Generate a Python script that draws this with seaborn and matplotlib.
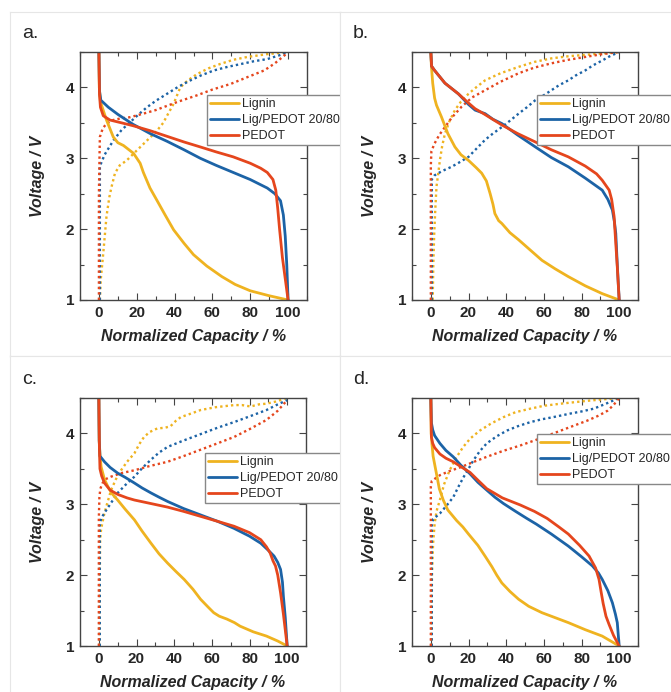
"""
Charge/discharge profiles (normalized capacity) for Lignin, Lig/PEDOT 20/80 and PEDOT,
four panels a-d. Solid = discharge, dotted = charge.
"""

import matplotlib
matplotlib.use('Agg')
import matplotlib.pyplot as plt
from matplotlib.lines import Line2D
from matplotlib.ticker import MultipleLocator
import seaborn as sns

# ---- data: (capacity %, voltage V) ----
samples = ['Lignin', 'Lig/PEDOT 20/80', 'PEDOT']
panel_labels = ['a.', 'b.', 'c.', 'd.']

# panel a
a_lig_dis_cap = [0, 0.2, 0.8, 2, 4, 7.6, 10, 13, 18.3, 21.8, 23.5, 27, 30.6, 35, 39.5, 45, 50, 57, 65, 72, 80, 90, 100]
a_lig_dis_v = [4.5, 4.0, 3.8, 3.7, 3.54, 3.3, 3.22, 3.18, 3.07, 2.93, 2.8, 2.58, 2.41, 2.2, 1.99, 1.8, 1.64, 1.48, 1.33, 1.22, 1.13, 1.06, 1.0]
a_blu_dis_cap = [0, 0.3, 1, 5, 10, 18, 27, 36, 45, 53.6, 62, 71, 80, 89, 93, 96, 97.5, 98.5, 99.3, 100]
a_blu_dis_v = [4.5, 3.95, 3.82, 3.72, 3.62, 3.48, 3.35, 3.24, 3.12, 3.0, 2.9, 2.8, 2.7, 2.58, 2.5, 2.4, 2.2, 1.9, 1.5, 1.0]
a_red_dis_cap = [0, 0.3, 0.8, 2.3, 5.8, 12, 18, 27, 36, 45, 53.6, 62, 71, 80, 85.5, 89, 92, 93.5, 94.5, 95.5, 97, 98.5, 100]
a_red_dis_v = [4.5, 3.9, 3.72, 3.6, 3.54, 3.5, 3.46, 3.39, 3.31, 3.23, 3.16, 3.09, 3.02, 2.93, 2.86, 2.8, 2.7, 2.55, 2.3, 2.0, 1.6, 1.3, 1.0]
a_lig_chg_cap = [0.5, 1, 2.3, 4, 5.5, 6.7, 8.5, 11, 14.7, 20, 25, 30.7, 34, 36, 39.5, 43, 47, 52, 58, 64, 71, 78.5, 89, 100]
a_lig_chg_v = [1.0, 1.3, 1.66, 2.18, 2.45, 2.6, 2.79, 2.9, 2.97, 3.11, 3.24, 3.39, 3.5, 3.6, 3.77, 4.0, 4.1, 4.19, 4.27, 4.33, 4.39, 4.43, 4.47, 4.5]
a_blu_chg_cap = [0.5, 0.5, 1, 3, 7.6, 12, 16.5, 21, 25.4, 30, 36, 42, 48.4, 54, 60.8, 68, 75, 82, 89, 95, 100]
a_blu_chg_v = [1.0, 2.88, 2.92, 3.05, 3.25, 3.4, 3.51, 3.62, 3.72, 3.81, 3.91, 4.01, 4.1, 4.17, 4.24, 4.29, 4.33, 4.37, 4.4, 4.45, 4.5]
a_red_chg_cap = [0, 0, 0.3, 0.5, 2, 4, 7.6, 11, 16.5, 23.5, 30, 34, 42, 52, 60, 69.7, 78, 87.4, 93, 98, 100]
a_red_chg_v = [1.0, 2.5, 3.0, 3.3, 3.42, 3.49, 3.54, 3.56, 3.58, 3.63, 3.68, 3.72, 3.8, 3.89, 3.97, 4.05, 4.14, 4.24, 4.34, 4.45, 4.5]

# panel b
b_lig_dis_cap = [0, 0.3, 1, 2, 3, 5.7, 9, 12.8, 16, 20, 24, 27, 29.5, 31.5, 33, 34, 36, 37.7, 42, 46.6, 53, 59, 66, 73, 82, 91, 100]
b_lig_dis_v = [4.5, 4.3, 4.06, 3.85, 3.75, 3.58, 3.35, 3.16, 3.05, 2.97, 2.87, 2.79, 2.68, 2.5, 2.35, 2.22, 2.12, 2.08, 1.95, 1.85, 1.7, 1.56, 1.44, 1.33, 1.2, 1.09, 1.0]
b_blu_dis_cap = [0, 0.4, 2, 7.5, 14.6, 20, 23.5, 28.8, 33, 37.7, 46, 55.5, 64, 73, 82, 91, 94, 96.4, 97.5, 98.2, 99, 100]
b_blu_dis_v = [4.5, 4.3, 4.24, 4.06, 3.91, 3.76, 3.68, 3.63, 3.55, 3.49, 3.33, 3.16, 3.01, 2.88, 2.72, 2.55, 2.42, 2.27, 2.1, 1.94, 1.5, 1.0]
b_red_dis_cap = [0, 0.4, 2, 7.5, 14.6, 20, 23.5, 28, 37.7, 46, 55.5, 64, 73, 82, 88, 91, 94.7, 96, 97.3, 98.2, 99, 100]
b_red_dis_v = [4.5, 4.3, 4.24, 4.06, 3.91, 3.78, 3.7, 3.63, 3.47, 3.35, 3.23, 3.12, 3.02, 2.89, 2.78, 2.69, 2.55, 2.42, 2.18, 1.8, 1.47, 1.0]
b_lig_chg_cap = [1, 1.3, 1.8, 2.4, 3, 4, 4.8, 6, 7.5, 10, 12.8, 16, 20, 24, 28.8, 37, 46.6, 55, 64, 73, 82, 91, 100]
b_lig_chg_v = [1.0, 1.5, 1.94, 2.3, 2.6, 2.8, 2.97, 3.17, 3.35, 3.53, 3.68, 3.8, 3.91, 4.0, 4.1, 4.2, 4.29, 4.36, 4.41, 4.44, 4.46, 4.48, 4.5]
b_blu_chg_cap = [0.5, 0.5, 2, 6, 11, 15, 20, 24, 28.8, 33, 37.7, 42, 46.6, 51, 55.5, 60, 64, 68, 73, 77, 82, 86, 91, 95, 100]
b_blu_chg_v = [1.0, 2.7, 2.76, 2.82, 2.88, 2.94, 3.02, 3.13, 3.26, 3.35, 3.44, 3.53, 3.63, 3.72, 3.82, 3.89, 3.96, 4.03, 4.1, 4.17, 4.24, 4.31, 4.38, 4.44, 4.5]
b_red_chg_cap = [0, 0, 0.3, 2, 4.5, 7.5, 11, 16.4, 22, 28.8, 37, 46.6, 55, 64, 73, 82, 91, 100]
b_red_chg_v = [1.0, 2.9, 3.1, 3.21, 3.33, 3.44, 3.57, 3.73, 3.86, 3.96, 4.08, 4.2, 4.28, 4.34, 4.39, 4.43, 4.47, 4.5]

# panel c
c_lig_dis_cap = [0, 0.2, 0.6, 1.2, 3, 4.8, 7, 10, 14, 18.9, 23, 27.7, 32, 36.5, 41, 45.3, 50, 54, 58, 61, 64, 68, 72, 75, 82, 89, 95, 100]
c_lig_dis_v = [4.5, 3.9, 3.7, 3.53, 3.35, 3.25, 3.15, 3.06, 2.93, 2.78, 2.62, 2.45, 2.3, 2.17, 2.05, 1.94, 1.8, 1.66, 1.55, 1.47, 1.42, 1.38, 1.33, 1.28, 1.2, 1.14, 1.07, 1.0]
c_blu_dis_cap = [0, 0.2, 0.6, 3, 6, 10, 14, 18.9, 23, 27.7, 32, 36.5, 45, 54, 63, 71.8, 80, 86, 90, 93, 95, 96.5, 97.5, 98, 99, 100]
c_blu_dis_v = [4.5, 3.9, 3.68, 3.6, 3.52, 3.44, 3.38, 3.3, 3.23, 3.16, 3.1, 3.04, 2.94, 2.85, 2.76, 2.66, 2.55, 2.45, 2.35, 2.27, 2.18, 2.08, 1.9, 1.7, 1.4, 1.0]
c_red_dis_cap = [0, 0.3, 0.6, 1.5, 3, 6, 10, 15, 18.9, 27.7, 36.5, 45, 54, 63, 71.8, 80, 86, 89, 91, 92.5, 93.8, 95, 96.5, 98, 100]
c_red_dis_v = [4.5, 3.8, 3.5, 3.4, 3.3, 3.2, 3.14, 3.09, 3.06, 3.01, 2.96, 2.9, 2.83, 2.76, 2.69, 2.6, 2.5, 2.4, 2.31, 2.2, 2.13, 2.0, 1.75, 1.45, 1.0]
c_lig_chg_cap = [0.3, 0.5, 0.7, 1.2, 3, 6.5, 9, 11.8, 15, 18.9, 21.5, 24, 27, 31, 35, 38, 41, 43.5, 50, 54, 62, 71.8, 76, 80.6, 85, 89, 94, 100]
c_lig_chg_v = [1.0, 2.0, 2.5, 2.65, 2.88, 3.2, 3.35, 3.48, 3.6, 3.72, 3.85, 3.95, 4.02, 4.07, 4.08, 4.1, 4.18, 4.23, 4.29, 4.33, 4.37, 4.4, 4.4, 4.38, 4.41, 4.42, 4.45, 4.5]
c_blu_chg_cap = [0.5, 0.5, 1.2, 4, 7, 10, 14, 18.9, 23, 27.7, 32, 36.5, 45, 54, 63, 71.8, 80, 89, 95, 100]
c_blu_chg_v = [1.0, 2.7, 2.8, 2.92, 3.04, 3.16, 3.27, 3.39, 3.51, 3.63, 3.73, 3.81, 3.9, 3.99, 4.08, 4.16, 4.24, 4.33, 4.41, 4.47]
c_red_chg_cap = [0, 0, 0.3, 0.8, 2, 4, 6.5, 12, 18.9, 27, 36.5, 45, 54, 63, 71.8, 80, 89, 95, 100]
c_red_chg_v = [1.0, 2.8, 3.1, 3.22, 3.3, 3.36, 3.39, 3.44, 3.48, 3.54, 3.6, 3.68, 3.77, 3.86, 3.95, 4.06, 4.19, 4.32, 4.47]

# panel d
d_lig_dis_cap = [0, 0.2, 0.6, 1.2, 3, 4.5, 6.6, 9, 13.7, 17, 20, 25, 29, 32.4, 35, 37.7, 42, 46.6, 52, 59, 66, 73, 82, 91, 100]
d_lig_dis_v = [4.5, 4.0, 3.85, 3.68, 3.43, 3.22, 3.06, 2.92, 2.77, 2.68, 2.58, 2.42, 2.26, 2.12, 2.0, 1.89, 1.77, 1.66, 1.56, 1.47, 1.4, 1.33, 1.23, 1.14, 1.0]
d_blu_dis_cap = [0, 0.3, 1, 2, 4.8, 8, 11.9, 16, 20.8, 25, 29.7, 34, 38.6, 45, 51, 56, 64, 73, 80, 85.8, 89, 91, 94, 96.4, 98, 99, 100]
d_blu_dis_v = [4.5, 4.15, 4.05, 3.97, 3.86, 3.76, 3.67, 3.55, 3.43, 3.31, 3.2, 3.1, 3.01, 2.9, 2.8, 2.72, 2.58, 2.41, 2.26, 2.13, 2.03, 1.94, 1.78, 1.61, 1.45, 1.33, 1.0]
d_red_dis_cap = [0, 0.3, 1, 2, 4.8, 8, 11.9, 16, 20.8, 25, 29.7, 38, 47.5, 55, 61.8, 68, 73, 79, 84, 87.5, 89.3, 90.5, 91.5, 93, 94.7, 97, 100]
d_red_dis_v = [4.5, 3.95, 3.86, 3.8, 3.71, 3.65, 3.6, 3.53, 3.45, 3.34, 3.22, 3.09, 2.99, 2.9, 2.8, 2.68, 2.58, 2.42, 2.27, 2.1, 1.94, 1.75, 1.6, 1.42, 1.3, 1.15, 1.0]
d_lig_chg_cap = [0.3, 0.6, 1.2, 2, 3, 4.8, 7, 10, 13.5, 17.2, 21, 26, 32, 38.6, 45, 52.9, 60, 69, 76, 83, 91, 100]
d_lig_chg_v = [1.0, 2.0, 2.45, 2.72, 2.9, 3.06, 3.28, 3.48, 3.66, 3.81, 3.93, 4.04, 4.14, 4.23, 4.3, 4.35, 4.39, 4.42, 4.44, 4.46, 4.48, 4.5]
d_blu_chg_cap = [0.5, 0.5, 1.2, 4.8, 8, 11.9, 14.5, 17.3, 20, 22.6, 26, 29.7, 35, 40.4, 46, 52.9, 59, 65, 74, 80, 86.6, 93, 100]
d_blu_chg_v = [1.0, 2.7, 2.79, 2.87, 2.97, 3.1, 3.24, 3.38, 3.5, 3.62, 3.75, 3.86, 3.96, 4.04, 4.1, 4.16, 4.2, 4.23, 4.28, 4.31, 4.35, 4.42, 4.5]
d_red_chg_cap = [0, 0, 0.5, 4.8, 10, 15.5, 22, 29.7, 38, 47.5, 56, 65, 74, 83, 89, 93.8, 97, 100]
d_red_chg_v = [1.0, 3.25, 3.33, 3.41, 3.47, 3.52, 3.59, 3.67, 3.75, 3.83, 3.91, 4.0, 4.09, 4.18, 4.25, 4.32, 4.4, 4.5]

colors = ['#efb320', '#1c63a6', '#e5461d']

panels = [
    [(a_lig_dis_cap, a_lig_dis_v, a_lig_chg_cap, a_lig_chg_v),
     (a_blu_dis_cap, a_blu_dis_v, a_blu_chg_cap, a_blu_chg_v),
     (a_red_dis_cap, a_red_dis_v, a_red_chg_cap, a_red_chg_v)],
    [(b_lig_dis_cap, b_lig_dis_v, b_lig_chg_cap, b_lig_chg_v),
     (b_blu_dis_cap, b_blu_dis_v, b_blu_chg_cap, b_blu_chg_v),
     (b_red_dis_cap, b_red_dis_v, b_red_chg_cap, b_red_chg_v)],
    [(c_lig_dis_cap, c_lig_dis_v, c_lig_chg_cap, c_lig_chg_v),
     (c_blu_dis_cap, c_blu_dis_v, c_blu_chg_cap, c_blu_chg_v),
     (c_red_dis_cap, c_red_dis_v, c_red_chg_cap, c_red_chg_v)],
    [(d_lig_dis_cap, d_lig_dis_v, d_lig_chg_cap, d_lig_chg_v),
     (d_blu_dis_cap, d_blu_dis_v, d_blu_chg_cap, d_blu_chg_v),
     (d_red_dis_cap, d_red_dis_v, d_red_chg_cap, d_red_chg_v)],
]

sns.set_style('ticks')
plt.rcParams['font.family'] = ['Liberation Sans', 'DejaVu Sans']

W, H = 671, 692
fig = plt.figure(figsize=(W / 100, H / 100), dpi=100)


def px_rect(x0, y0, x1, y1):
    # pixel box (top-left origin) -> figure fraction rect
    return [x0 / W, (H - y1) / H, (x1 - x0) / W, (y1 - y0) / H]


# panel frames, axes boxes, label positions, legend anchors
bg_boxes = [(10, 12, 340, 356), (340, 12, 680, 356), (10, 356, 340, 700), (340, 356, 680, 700)]
ax_boxes = [(80, 52, 307, 300), (412, 52, 638, 300), (80, 398, 306, 646), (412, 398, 638, 646)]
label_pos = [(22, 33), (353, 33), (22, 379), (353, 379)]
legend_anchor = [(0.56, 0.827), (0.553, 0.827), (0.553, 0.778), (0.553, 0.855)]

for i, curves in enumerate(panels):
    bg = fig.add_axes(px_rect(*bg_boxes[i]), zorder=2 * i)
    bg.set_xticks([])
    bg.set_yticks([])
    bg.set_facecolor('white')
    for s in bg.spines.values():
        s.set_color('#e6e6e6')
        s.set_linewidth(0.8)

    ax = fig.add_axes(px_rect(*ax_boxes[i]), zorder=2 * i + 1)

    # charge (dotted) first, discharge (solid) on top
    for (dc, dv, cc, cv), col in zip(curves, colors):
        sns.lineplot(x=cc, y=cv, ax=ax, color=col, lw=1.7, linestyle=(0, (1, 1.3)),
                     sort=False, estimator=None)
    for (dc, dv, cc, cv), col in zip(curves, colors):
        sns.lineplot(x=dc, y=dv, ax=ax, color=col, lw=2.0, sort=False, estimator=None)

    ax.set_xlim(-10, 110)
    ax.set_ylim(1, 4.5)
    ax.xaxis.set_major_locator(MultipleLocator(20))
    ax.xaxis.set_minor_locator(MultipleLocator(10))
    ax.yaxis.set_major_locator(MultipleLocator(1))
    ax.yaxis.set_minor_locator(MultipleLocator(0.5))
    ax.tick_params(which='both', direction='in', top=True, right=True, color='#444444', width=0.8)
    ax.tick_params(which='major', length=5, labelsize=11, pad=4)
    ax.tick_params(which='minor', length=3)
    for lab in ax.get_xticklabels() + ax.get_yticklabels():
        lab.set_fontweight('bold')
    for s in ax.spines.values():
        s.set_color('#444444')
        s.set_linewidth(1.0)

    ax.set_xlabel('Normalized Capacity / %', fontsize=11.5, fontweight='bold', fontstyle='italic', labelpad=7)
    ax.set_ylabel('Voltage / V', fontsize=11.5, fontweight='bold', fontstyle='italic', labelpad=15)

    handles = [Line2D([], [], color=c, lw=2.0) for c in colors]
    ax.legend(handles, samples, loc='upper left', bbox_to_anchor=legend_anchor[i],
              borderaxespad=0, frameon=True, fancybox=False, framealpha=1,
              edgecolor='#888888', fontsize=9, handlelength=2.3, handletextpad=0.25,
              labelspacing=0.32, borderpad=0.25)

    fig.text(label_pos[i][0] / W, 1 - label_pos[i][1] / H, panel_labels[i],
             fontsize=14, va='center', ha='left', zorder=10)

fig.savefig('out.png', dpi=100, facecolor='white')
